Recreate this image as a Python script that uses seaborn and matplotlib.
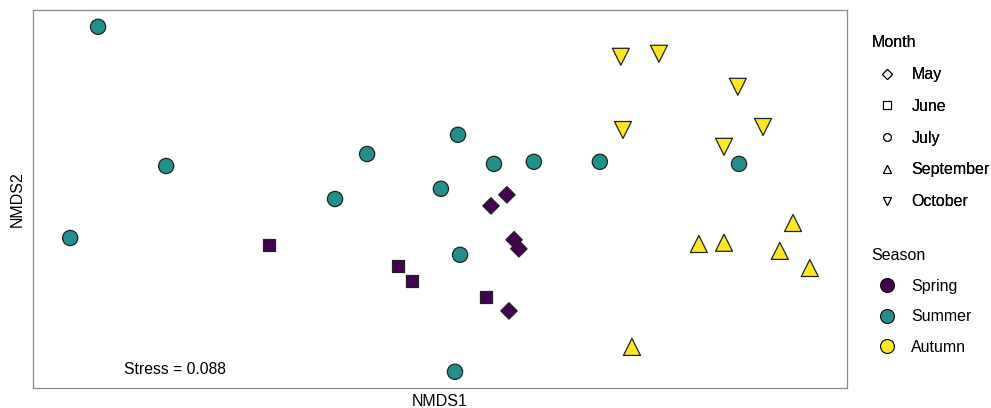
import matplotlib
matplotlib.use("Agg")
import matplotlib.pyplot as plt
from matplotlib.lines import Line2D
import seaborn as sns
import pandas as pd

nmds1 = [-1.140, -0.913, -1.233, -0.350, -0.243, 0.060, 0.003, 0.180, 0.313, 0.533, 0.067, 0.050, 0.997,
         0.170, 0.223, 0.247, 0.263, 0.230,
         -0.570, -0.140, -0.093, 0.153,
         0.603, 0.730, 0.993, 0.610, 1.077, 0.947,
         1.177, 0.863, 0.947, 1.133, 1.233, 0.640]
nmds2 = [0.677, 0.213, -0.027, 0.103, 0.253, 0.317, 0.137, 0.220, 0.227, 0.227, -0.083, -0.473, 0.220,
         0.080, 0.117, -0.033, -0.063, -0.270,
         -0.050, -0.120, -0.170, -0.223,
         0.577, 0.587, 0.477, 0.333, 0.343, 0.277,
         0.023, -0.047, -0.043, -0.070, -0.127, -0.390]
month = ["July"] * 13 + ["May"] * 5 + ["June"] * 4 + ["October"] * 6 + ["September"] * 6
season = ["Summer"] * 13 + ["Spring"] * 9 + ["Autumn"] * 12

month_levels = ["May", "June", "July", "September", "October"]
season_levels = ["Spring", "Summer", "Autumn"]
month_markers = {"May": "D", "June": "s", "July": "o", "September": "^", "October": "v"}
season_colors = {"Spring": "#440154", "Summer": "#21908C", "Autumn": "#FDE725"}
stress_label = "Stress = 0.088"

df = pd.DataFrame({"NMDS1": nmds1, "NMDS2": nmds2, "Month": month, "Season": season})

sns.set_style("white")
plt.rcParams["font.family"] = ["Liberation Sans", "DejaVu Sans"]
plt.rcParams["text.color"] = "black"
plt.rcParams["axes.labelcolor"] = "black"

fig = plt.figure(figsize=(9.91, 4.08), dpi=100)
ax = fig.add_axes([33 / 991, 1 - 388 / 408, (847 - 33) / 991, (388 - 10) / 408])

sizes = {"May": 70, "June": 75, "July": 120, "September": 150, "October": 150}
for m in month_levels:
    sub = df[df["Month"] == m]
    sns.scatterplot(data=sub, x="NMDS1", y="NMDS2", hue="Season", palette=season_colors,
                    hue_order=season_levels, marker=month_markers[m], s=sizes[m],
                    edgecolor="#222222", linewidth=0.9, legend=False, ax=ax, zorder=3)

ax.set_xlim(-1.357, 1.357)
ax.set_ylim(-0.527, 0.733)
ax.set_xticks([])
ax.set_yticks([])
ax.set_xlabel("NMDS1", fontsize=11.5, labelpad=4)
ax.set_ylabel("NMDS2", fontsize=11.5, labelpad=6)
for sp in ax.spines.values():
    sp.set_color("#8c8c8c")
    sp.set_linewidth(0.9)

ax.text(-0.883, -0.467, stress_label, ha="center", va="center", fontsize=11.3)

month_handles = [Line2D([], [], linestyle="none", marker=month_markers[m], markersize=5.5,
                        markerfacecolor="white", markeredgecolor="black", markeredgewidth=0.8)
                 for m in month_levels]
leg1 = fig.legend(month_handles, month_levels, title="Month", loc="upper left",
                  bbox_to_anchor=(857 / 991, 1 - 21 / 408), frameon=False, fontsize=11.5,
                  title_fontsize=11.5, labelspacing=1.05, handletextpad=0.5, alignment="left")
season_handles = [Line2D([], [], linestyle="none", marker="o", markersize=10,
                         markerfacecolor=season_colors[s], markeredgecolor="black", markeredgewidth=0.8)
                  for s in season_levels]
leg2 = fig.legend(season_handles, season_levels, title="Season", loc="upper left",
                  bbox_to_anchor=(857 / 991, 1 - 234 / 408), frameon=False, fontsize=11.5,
                  title_fontsize=11.5, labelspacing=0.97, handletextpad=0.5, alignment="left")
fig.add_artist(leg1)

fig.savefig("out.png", dpi=100)
